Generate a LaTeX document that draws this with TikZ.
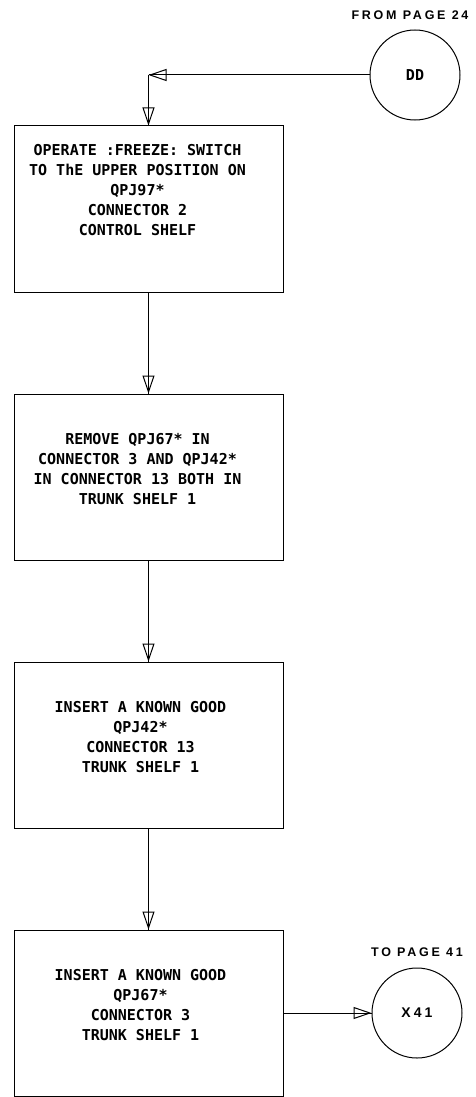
\documentclass[tikz,border=0pt]{standalone}
\usepackage{fontspec}
\newfontfamily\lettering{DejaVu Sans Mono}
\newfontfamily\pagefont[LetterSpace=22]{Liberation Sans}
\usetikzlibrary{arrows.meta,positioning}

\begin{document}
\begin{tikzpicture}[x=1pt,y=-1pt,node distance=101pt,
  stepbox/.style={draw,line width=1pt,minimum width=269pt,minimum height=166pt,inner sep=0pt},
  steptext/.style={align=center,inner sep=0pt,font=\lettering\bfseries\fontsize{15}{20}\selectfont},
  connector/.style={circle,draw,line width=1pt,minimum size=90pt,inner sep=0pt},
  pagelbl/.style={font=\pagefont\bfseries\fontsize{12.5}{14}\selectfont,inner sep=0pt},
  flow/.style={line width=1pt,-{Triangle[open,length=18pt,width=12pt,line width=1pt]},postaction={draw,-}}]
  \useasboundingbox (0,0) rectangle (476,1097);

  % boxes
  \node[stepbox] (op) at (148.5,209) {};
  \node[stepbox] (rm) [below=of op] {};
  \node[stepbox] (ins42) [below=of rm] {};
  \node[stepbox] (ins67) [below=of ins42] {};

  % box texts
  \node[steptext] (opt) at ([xshift=-11pt,yshift=19pt]op.center)
    {OPERATE :FREEZE: SWITCH\\TO ThE UPPER POSITION ON\\QPJ97*\\CONNECTOR 2\\CONTROL SHELF};
  \node[steptext] (rmt) at ([xshift=-11pt,yshift=8pt]rm.center)
    {REMOVE QPJ67* IN\\CONNECTOR 3 AND QPJ42*\\IN CONNECTOR 13 BOTH IN\\TRUNK SHELF 1};
  \node[steptext] (ins42t) at ([xshift=-8pt,yshift=8pt]ins42.center)
    {INSERT A KNOWN GOOD\\QPJ42*\\CONNECTOR 13\\TRUNK SHELF 1};
  \node[steptext] (ins67t) at ([xshift=-8pt,yshift=8pt]ins67.center)
    {INSERT A KNOWN GOOD\\QPJ67*\\CONNECTOR 3\\TRUNK SHELF 1};

  % off-page connectors
  \node[connector,label={[pagelbl,label distance=10pt,xshift=-5pt]above:FROM PAGE 24}] (dd) at (415,75)
    {\lettering\bfseries\fontsize{15}{20}\selectfont DD};
  \node[connector,label={[pagelbl,label distance=11pt]above:TO PAGE 41}] (x41) [right=88pt of ins67]
    {\pagefont\bfseries\fontsize{14}{16}\selectfont X41};
  \coordinate (join) at (op.north |- dd.west);

  % edges
  \draw[flow] (dd.west) -- (join);
  \draw[flow] (join) -- (op.north);
  \draw[flow] (op) -- (rm);
  \draw[flow] (rm) -- (ins42);
  \draw[flow] (ins42) -- (ins67);
  \draw[flow] (ins67) -- (x41);
\end{tikzpicture}
\end{document}
